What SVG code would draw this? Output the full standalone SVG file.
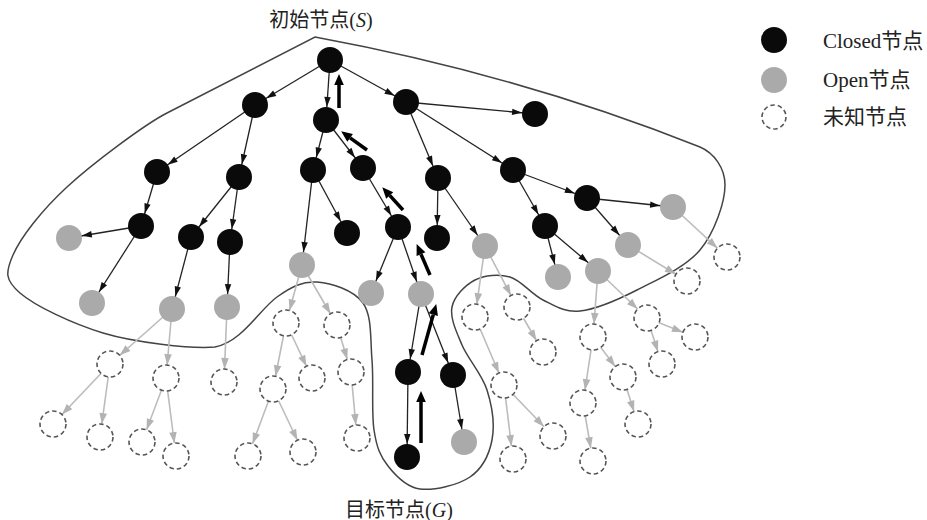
<svg xmlns="http://www.w3.org/2000/svg" width="927" height="520" viewBox="0 0 927 520">
<style>
.k{fill:#0a0a0a}
.o{fill:#aaaaaa}
.u{fill:#ffffff;stroke:#555;stroke-width:1.6;stroke-dasharray:4.5 3}
.e{stroke:#222;stroke-width:1.3;marker-end:url(#ab)}
.eg{stroke:#bcbcbc;stroke-width:1.6;marker-end:url(#ag)}
.t{stroke:#000;stroke-width:3.5;fill:none;marker-end:url(#at)}
.lbl{font-family:"Liberation Serif","Noto Sans CJK SC",serif;font-size:20px;fill:#222}
.leg{font-family:"Liberation Serif","Noto Sans CJK SC",serif;font-size:21px;fill:#222}
.bd{fill:none;stroke:#444;stroke-width:1.5}
</style>
<defs>
<marker id="ab" markerUnits="userSpaceOnUse" orient="auto" refX="13" refY="0" markerWidth="1" markerHeight="1" overflow="visible"><path d="M-10,-3.2 L0,0 L-10,3.2 z" fill="#111"/></marker>
<marker id="ag" markerUnits="userSpaceOnUse" orient="auto" refX="13" refY="0" markerWidth="1" markerHeight="1" overflow="visible"><path d="M-11,-3.8 L0,0 L-11,3.8 z" fill="#b3b3b3"/></marker>
<marker id="at" markerUnits="userSpaceOnUse" orient="auto" refX="0" refY="0" markerWidth="1" markerHeight="1" overflow="visible"><path d="M0,-4.8 L11,0 L0,4.8 z" fill="#000"/></marker>
</defs>

<path id="boundary" class="bd" d="M315,37 C451.7,62.3 580,99 700,147 C714,153 725,168 725,185 C725,202 714.7,232.5 700,250 C685.3,267.5 657,279.8 637,290 C617,300.2 595.7,309.3 580,311 C564.3,312.7 554.7,305.7 543,300 C531.3,294.3 521.3,280.3 510,277 C498.7,273.7 484.7,275 475,280 C465.3,285 454.2,296.2 452,307 C449.8,317.8 456.2,331.2 462,345 C467.8,358.8 482,374.2 487,390 C492,405.8 494.8,425.5 492,440 C489.2,454.5 482,468.8 470,477 C458,485.2 433.7,490.8 420,489 C406.3,487.2 395.7,475.8 388,466 C380.3,456.2 376.7,447.7 374,430 C371.3,412.3 373.8,381.2 372,360 C370.2,338.8 372.2,316 363,303 C353.8,290 331.3,283 317,282 C302.7,281 291.5,286.8 277,297 C260,309 242,342 215,347 C190,349 133.5,342.2 103,333 C72.5,323.8 35,306 20,293 C5,280 5.2,272.7 13,255 C20.8,237.3 41.3,210.7 67,187 C92.7,163.3 144.8,124.4 167,113 L315,37 Z"/>

<g id="connectors">
<line class="e" x1="330" y1="60" x2="255" y2="105"/>
<line class="e" x1="330" y1="60" x2="326" y2="120"/>
<line class="e" x1="330" y1="60" x2="406" y2="102"/>
<line class="e" x1="255" y1="105" x2="157" y2="172"/>
<line class="e" x1="255" y1="105" x2="239" y2="177"/>
<line class="e" x1="157" y1="172" x2="141" y2="226"/>
<line class="e" x1="141" y1="226" x2="69" y2="238"/>
<line class="e" x1="141" y1="226" x2="92" y2="303"/>
<line class="e" x1="239" y1="177" x2="191" y2="237"/>
<line class="e" x1="239" y1="177" x2="230" y2="242"/>
<line class="e" x1="191" y1="237" x2="172" y2="309"/>
<line class="e" x1="230" y1="242" x2="227" y2="307"/>
<line class="e" x1="326" y1="120" x2="313" y2="170"/>
<line class="e" x1="326" y1="120" x2="363" y2="168"/>
<line class="e" x1="313" y1="170" x2="302" y2="265"/>
<line class="e" x1="313" y1="170" x2="347" y2="233"/>
<line class="e" x1="363" y1="168" x2="398" y2="227"/>
<line class="e" x1="398" y1="227" x2="371" y2="293"/>
<line class="e" x1="398" y1="227" x2="421" y2="294"/>
<line class="e" x1="421" y1="294" x2="408" y2="372"/>
<line class="e" x1="421" y1="294" x2="453" y2="375"/>
<line class="e" x1="408" y1="372" x2="407" y2="457"/>
<line class="e" x1="453" y1="375" x2="464" y2="442"/>
<line class="e" x1="406" y1="102" x2="535" y2="114"/>
<line class="e" x1="406" y1="102" x2="438" y2="178"/>
<line class="e" x1="406" y1="102" x2="513" y2="170"/>
<line class="e" x1="438" y1="178" x2="437" y2="238"/>
<line class="e" x1="438" y1="178" x2="485" y2="246"/>
<line class="e" x1="513" y1="170" x2="587" y2="198"/>
<line class="e" x1="513" y1="170" x2="545" y2="226"/>
<line class="e" x1="587" y1="198" x2="673" y2="207"/>
<line class="e" x1="587" y1="198" x2="628" y2="245"/>
<line class="e" x1="545" y1="226" x2="558" y2="277"/>
<line class="e" x1="545" y1="226" x2="598" y2="271"/>

<line class="eg" x1="172" y1="309" x2="110" y2="364"/>
<line class="eg" x1="172" y1="309" x2="166" y2="378"/>
<line class="eg" x1="110" y1="364" x2="53" y2="424"/>
<line class="eg" x1="110" y1="364" x2="100" y2="437"/>
<line class="eg" x1="166" y1="378" x2="142" y2="442"/>
<line class="eg" x1="166" y1="378" x2="176" y2="456"/>
<line class="eg" x1="227" y1="307" x2="224" y2="382"/>
<line class="eg" x1="302" y1="265" x2="286" y2="323"/>
<line class="eg" x1="302" y1="265" x2="337" y2="325"/>
<line class="eg" x1="286" y1="323" x2="273" y2="389"/>
<line class="eg" x1="286" y1="323" x2="312" y2="378"/>
<line class="eg" x1="337" y1="325" x2="351" y2="372"/>
<line class="eg" x1="273" y1="389" x2="248" y2="456"/>
<line class="eg" x1="273" y1="389" x2="303" y2="452"/>
<line class="eg" x1="351" y1="372" x2="357" y2="438"/>
<line class="eg" x1="485" y1="246" x2="475" y2="317"/>
<line class="eg" x1="485" y1="246" x2="517" y2="307"/>
<line class="eg" x1="517" y1="307" x2="543" y2="352"/>
<line class="eg" x1="475" y1="317" x2="504" y2="385"/>
<line class="eg" x1="504" y1="385" x2="513" y2="459"/>
<line class="eg" x1="504" y1="385" x2="553" y2="436"/>
<line class="eg" x1="598" y1="271" x2="593" y2="337"/>
<line class="eg" x1="598" y1="271" x2="647" y2="318"/>
<line class="eg" x1="593" y1="337" x2="583" y2="403"/>
<line class="eg" x1="593" y1="337" x2="623" y2="377"/>
<line class="eg" x1="583" y1="403" x2="593" y2="461"/>
<line class="eg" x1="623" y1="377" x2="638" y2="424"/>
<line class="eg" x1="647" y1="318" x2="695" y2="337"/>
<line class="eg" x1="647" y1="318" x2="662" y2="364"/>
<line class="eg" x1="628" y1="245" x2="687" y2="281"/>
<line class="eg" x1="673" y1="207" x2="727" y2="257"/>

<path class="t" d="M339,108 L339,85"/>
<path class="t" d="M367,150 L350.1,137.8"/>
<path class="t" d="M403,210 L389.7,195.4"/>
<path class="t" d="M430,275 L421,254.2"/>
<path class="t" d="M422,355 L433.3,314.6"/>
<path class="t" d="M421,443 L421,402"/>
</g>

<g id="S"><circle class="k" cx="330" cy="60" r="13"/></g>
<g id="n_a"><circle class="k" cx="255" cy="105" r="13"/></g>
<g id="n_b"><circle class="k" cx="326" cy="120" r="13"/></g>
<g id="n_c"><circle class="k" cx="406" cy="102" r="13"/></g>
<g id="n_a1"><circle class="k" cx="157" cy="172" r="13"/></g>
<g id="n_a2"><circle class="k" cx="239" cy="177" r="13"/></g>
<g id="n_a11"><circle class="k" cx="141" cy="226" r="13"/></g>
<g id="n_a21"><circle class="k" cx="191" cy="237" r="13"/></g>
<g id="n_a22"><circle class="k" cx="230" cy="242" r="13"/></g>
<g id="n_b1"><circle class="k" cx="313" cy="170" r="13"/></g>
<g id="n_b2"><circle class="k" cx="363" cy="168" r="13"/></g>
<g id="n_b11"><circle class="k" cx="347" cy="233" r="13"/></g>
<g id="n_b21"><circle class="k" cx="398" cy="227" r="13"/></g>
<g id="n_c1"><circle class="k" cx="535" cy="114" r="13"/></g>
<g id="n_c2"><circle class="k" cx="438" cy="178" r="13"/></g>
<g id="n_c3"><circle class="k" cx="513" cy="170" r="13"/></g>
<g id="n_c21"><circle class="k" cx="437" cy="238" r="13"/></g>
<g id="n_c31"><circle class="k" cx="587" cy="198" r="13"/></g>
<g id="n_c32"><circle class="k" cx="545" cy="226" r="13"/></g>
<g id="n_g1"><circle class="k" cx="408" cy="372" r="13"/></g>
<g id="n_g2"><circle class="k" cx="453" cy="375" r="13"/></g>
<g id="G"><circle class="k" cx="407" cy="457" r="13"/></g>

<g id="o1"><circle class="o" cx="69" cy="238" r="13"/></g>
<g id="o2"><circle class="o" cx="92" cy="303" r="13"/></g>
<g id="o3"><circle class="o" cx="172" cy="309" r="13"/></g>
<g id="o4"><circle class="o" cx="227" cy="307" r="13"/></g>
<g id="o5"><circle class="o" cx="302" cy="265" r="13"/></g>
<g id="o6"><circle class="o" cx="371" cy="293" r="13"/></g>
<g id="o7"><circle class="o" cx="421" cy="294" r="13"/></g>
<g id="o8"><circle class="o" cx="485" cy="246" r="13"/></g>
<g id="o9"><circle class="o" cx="558" cy="277" r="13"/></g>
<g id="o10"><circle class="o" cx="598" cy="271" r="13"/></g>
<g id="o11"><circle class="o" cx="628" cy="245" r="13"/></g>
<g id="o12"><circle class="o" cx="673" cy="207" r="13"/></g>
<g id="o13"><circle class="o" cx="464" cy="442" r="13"/></g>

<g id="u1"><circle class="u" cx="110" cy="364" r="13"/></g>
<g id="u2"><circle class="u" cx="166" cy="378" r="13"/></g>
<g id="u3"><circle class="u" cx="53" cy="424" r="13"/></g>
<g id="u4"><circle class="u" cx="100" cy="437" r="13"/></g>
<g id="u5"><circle class="u" cx="142" cy="442" r="13"/></g>
<g id="u6"><circle class="u" cx="176" cy="456" r="13"/></g>
<g id="u7"><circle class="u" cx="224" cy="382" r="13"/></g>
<g id="u8"><circle class="u" cx="286" cy="323" r="13"/></g>
<g id="u9"><circle class="u" cx="337" cy="325" r="13"/></g>
<g id="u10"><circle class="u" cx="273" cy="389" r="13"/></g>
<g id="u11"><circle class="u" cx="312" cy="378" r="13"/></g>
<g id="u12"><circle class="u" cx="351" cy="372" r="13"/></g>
<g id="u13"><circle class="u" cx="248" cy="456" r="13"/></g>
<g id="u14"><circle class="u" cx="303" cy="452" r="13"/></g>
<g id="u15"><circle class="u" cx="357" cy="438" r="13"/></g>
<g id="u16"><circle class="u" cx="475" cy="317" r="13"/></g>
<g id="u17"><circle class="u" cx="517" cy="307" r="13"/></g>
<g id="u18"><circle class="u" cx="543" cy="352" r="13"/></g>
<g id="u19"><circle class="u" cx="504" cy="385" r="13"/></g>
<g id="u20"><circle class="u" cx="513" cy="459" r="13"/></g>
<g id="u21"><circle class="u" cx="553" cy="436" r="13"/></g>
<g id="u22"><circle class="u" cx="593" cy="337" r="13"/></g>
<g id="u23"><circle class="u" cx="647" cy="318" r="13"/></g>
<g id="u24"><circle class="u" cx="583" cy="403" r="13"/></g>
<g id="u25"><circle class="u" cx="623" cy="377" r="13"/></g>
<g id="u26"><circle class="u" cx="593" cy="461" r="13"/></g>
<g id="u27"><circle class="u" cx="638" cy="424" r="13"/></g>
<g id="u28"><circle class="u" cx="695" cy="337" r="13"/></g>
<g id="u29"><circle class="u" cx="662" cy="364" r="13"/></g>
<g id="u30"><circle class="u" cx="687" cy="281" r="13"/></g>
<g id="u31"><circle class="u" cx="727" cy="257" r="13"/></g>

<g id="label-start"><text class="lbl" x="321" y="27" text-anchor="middle">初始节点(<tspan font-style="italic">S</tspan>)</text></g>
<g id="label-goal"><text class="lbl" x="399" y="517" text-anchor="middle">目标节点(<tspan font-style="italic">G</tspan>)</text></g>

<g id="legend-closed"><circle class="k" cx="774" cy="40" r="13"/><text class="leg" x="823" y="48">Closed节点</text></g>
<g id="legend-open"><circle class="o" cx="774" cy="80" r="13"/><text class="leg" x="823" y="87">Open节点</text></g>
<g id="legend-unknown"><circle class="u" cx="774" cy="117" r="12"/><text class="leg" x="823" y="124">未知节点</text></g>
</svg>
